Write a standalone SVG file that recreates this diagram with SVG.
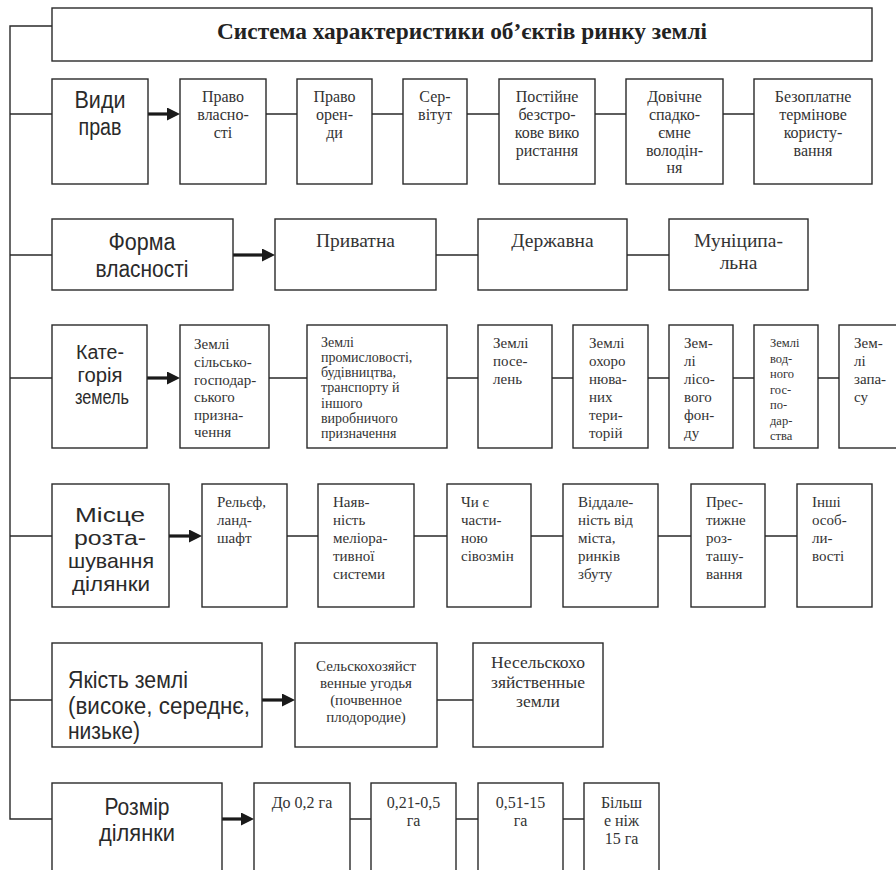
<svg xmlns="http://www.w3.org/2000/svg" width="896" height="870" viewBox="0 0 896 870">
<defs>
<style>
.b{fill:#fff;stroke:#2a2a2a;stroke-width:1.4}
.c{fill:none;stroke:#2a2a2a;stroke-width:1.4}
.a{stroke:#1a1a1a;stroke-width:3.2;fill:none}
.L{font-family:"Liberation Sans",Arial,sans-serif;font-size:23px;fill:#2a2a2a}
.s{font-family:"Liberation Serif","Times New Roman",serif;font-size:16px;fill:#333}
.m{text-anchor:middle}
.t{font-family:"Liberation Serif","Times New Roman",serif;font-size:23px;font-weight:bold;fill:#222;text-anchor:middle}
</style>
<marker id="ah" markerUnits="userSpaceOnUse" markerWidth="14" markerHeight="14" refX="0" refY="6.5" orient="auto">
<path d="M0,0 L13,6.5 L0,13 z" fill="#1a1a1a"/>
</marker>
</defs>
<rect width="896" height="870" fill="#fff"/>

<g id="connectors">
<path class="c" d="M52,26 H10 V819 H52 M10,114 H52 M10,255 H52 M10,378 H52 M10,536 H52 M10,700 H52"/>
<path class="c" d="M266,114 H297 M372,114 H403 M467,114 H499 M595,114 H626 M723,114 H754"/>
<path class="c" d="M436,255 H478 M627,255 H669"/>
<path class="c" d="M269,378 H307 M447,378 H478 M552,378 H573 M648,378 H669 M733,378 H754 M818,378 H839"/>
<path class="c" d="M287,536 H318 M414,536 H447 M531,536 H563 M658,536 H691 M765,536 H797"/>
<path class="c" d="M437,700 H473"/>
<path class="c" d="M350,819 H371 M456,819 H478 M563,819 H584"/>
<line class="a" x1="148" y1="114" x2="167" y2="114" marker-end="url(#ah)"/>
<line class="a" x1="233" y1="255" x2="262" y2="255" marker-end="url(#ah)"/>
<line class="a" x1="147" y1="378" x2="167" y2="378" marker-end="url(#ah)"/>
<line class="a" x1="169" y1="536" x2="189" y2="536" marker-end="url(#ah)"/>
<line class="a" x1="262" y1="700" x2="282" y2="700" marker-end="url(#ah)"/>
<line class="a" x1="222" y1="819" x2="241" y2="819" marker-end="url(#ah)"/>
</g>

<g id="title"><rect class="b" x="52" y="8" width="820" height="53"/>
<text class="t" x="462" y="39" textLength="490" lengthAdjust="spacingAndGlyphs">Система характеристики об’єктів ринку землі</text></g>

<!-- Row 1 -->
<g id="vydy-prav"><rect class="b" x="52" y="79" width="96" height="105"/>
<text class="L m" x="100" y="108" textLength="51" lengthAdjust="spacingAndGlyphs">Види</text>
<text class="L m" x="100" y="135" textLength="43" lengthAdjust="spacingAndGlyphs">прав</text></g>
<g id="pravo-vlasnosti"><rect class="b" x="180" y="79" width="86" height="105"/>
<text class="s m"><tspan x="223" y="102">Право</tspan><tspan x="223" y="120">власно-</tspan><tspan x="223" y="138">сті</tspan></text></g>
<g id="pravo-orendy"><rect class="b" x="297" y="79" width="75" height="105"/>
<text class="s m"><tspan x="334.5" y="102">Право</tspan><tspan x="334.5" y="120">орен-</tspan><tspan x="334.5" y="138">ди</tspan></text></g>
<g id="servitut"><rect class="b" x="403" y="79" width="64" height="105"/>
<text class="s m"><tspan x="435" y="102">Сер-</tspan><tspan x="435" y="120">вітут</tspan></text></g>
<g id="postiine"><rect class="b" x="499" y="79" width="96" height="105"/>
<text class="s m"><tspan x="547" y="102">Постійне</tspan><tspan x="547" y="120">безстро-</tspan><tspan x="547" y="138">кове вико</tspan><tspan x="547" y="156">ристання</tspan></text></g>
<g id="dovichne"><rect class="b" x="626" y="79" width="97" height="105"/>
<text class="s m"><tspan x="674.5" y="102">Довічне</tspan><tspan x="674.5" y="120">спадко-</tspan><tspan x="674.5" y="138">ємне</tspan><tspan x="674.5" y="156">володін-</tspan><tspan x="674.5" y="173">ня</tspan></text></g>
<g id="bezoplatne"><rect class="b" x="754" y="79" width="118" height="105"/>
<text class="s m"><tspan x="813" y="102">Безоплатне</tspan><tspan x="813" y="120">термінове</tspan><tspan x="813" y="138">користу-</tspan><tspan x="813" y="156">вання</tspan></text></g>

<!-- Row 2 -->
<g id="forma-vlasnosti"><rect class="b" x="52" y="219" width="181" height="71"/>
<text class="L m" x="142" y="250" textLength="67" lengthAdjust="spacingAndGlyphs">Форма</text>
<text class="L m" x="142" y="277" textLength="93" lengthAdjust="spacingAndGlyphs">власності</text></g>
<g id="pryvatna"><rect class="b" x="275" y="219" width="161" height="71"/>
<text class="s m" style="font-size:19.5px" x="355.5" y="247">Приватна</text></g>
<g id="derzhavna"><rect class="b" x="478" y="219" width="149" height="71"/>
<text class="s m" style="font-size:19.5px" x="552.5" y="247">Державна</text></g>
<g id="munitsypalna"><rect class="b" x="669" y="219" width="139" height="71"/>
<text class="s m" style="font-size:19.5px"><tspan x="738.5" y="247">Муніципа-</tspan><tspan x="738.5" y="269">льна</tspan></text></g>

<!-- Row 3 -->
<g id="katehoriia"><rect class="b" x="52" y="325" width="95" height="123"/>
<text class="L m" style="font-size:20px" x="100" y="359" textLength="48" lengthAdjust="spacingAndGlyphs">Кате-</text>
<text class="L m" style="font-size:20px" x="100" y="381.5" textLength="45" lengthAdjust="spacingAndGlyphs">горія</text>
<text class="L m" style="font-size:20px" x="102" y="404" textLength="54" lengthAdjust="spacingAndGlyphs">земель</text></g>
<g id="silskohosp"><rect class="b" x="180" y="325" width="89" height="123"/>
<text class="s" style="font-size:15px"><tspan x="194" y="349">Землі</tspan><tspan x="194" y="367">сільсько-</tspan><tspan x="194" y="384.5">господар-</tspan><tspan x="194" y="402">ського</tspan><tspan x="194" y="420">призна-</tspan><tspan x="194" y="437">чення</tspan></text></g>
<g id="promyslovosti"><rect class="b" x="307" y="325" width="140" height="123"/>
<text class="s" style="font-size:14px"><tspan x="321" y="347">Землі</tspan><tspan x="321" y="362">промисловості,</tspan><tspan x="321" y="377">будівництва,</tspan><tspan x="321" y="392">транспорту й</tspan><tspan x="321" y="408">іншого</tspan><tspan x="321" y="423">виробничого</tspan><tspan x="321" y="438">призначення</tspan></text></g>
<g id="poselen"><rect class="b" x="478" y="325" width="74" height="123"/>
<text class="s" style="font-size:15px"><tspan x="493" y="348">Землі</tspan><tspan x="493" y="366">посе-</tspan><tspan x="493" y="384">лень</tspan></text></g>
<g id="okhoroniuvanykh"><rect class="b" x="573" y="325" width="75" height="123"/>
<text class="s" style="font-size:15px"><tspan x="589" y="348">Землі</tspan><tspan x="589" y="366">охоро</tspan><tspan x="589" y="384">нюва-</tspan><tspan x="589" y="402">них</tspan><tspan x="589" y="420">тери-</tspan><tspan x="589" y="438">торій</tspan></text></g>
<g id="lisovoho"><rect class="b" x="669" y="325" width="64" height="123"/>
<text class="s" style="font-size:15px"><tspan x="684" y="348">Зем-</tspan><tspan x="684" y="366">лі</tspan><tspan x="684" y="384">лісо-</tspan><tspan x="684" y="402">вого</tspan><tspan x="684" y="420">фон-</tspan><tspan x="684" y="438">ду</tspan></text></g>
<g id="vodnoho"><rect class="b" x="754" y="325" width="64" height="123"/>
<text class="s" style="font-size:12.5px"><tspan x="770" y="347">Землі</tspan><tspan x="770" y="362.5">вод-</tspan><tspan x="770" y="378">ного</tspan><tspan x="770" y="393.5">гос-</tspan><tspan x="770" y="409">по-</tspan><tspan x="770" y="424.5">дар-</tspan><tspan x="770" y="440">ства</tspan></text></g>
<g id="zapasu"><rect class="b" x="839" y="325" width="80" height="123"/>
<text class="s" style="font-size:15px"><tspan x="854" y="348">Зем-</tspan><tspan x="854" y="366">лі</tspan><tspan x="854" y="384">запа-</tspan><tspan x="854" y="402">су</tspan></text></g>

<!-- Row 4 -->
<g id="mistse"><rect class="b" x="52" y="484" width="117" height="123"/>
<text class="L m" style="font-size:21px" x="110" y="522" textLength="70" lengthAdjust="spacingAndGlyphs">Місце</text>
<text class="L m" style="font-size:21px" x="110" y="545" textLength="72" lengthAdjust="spacingAndGlyphs">розта-</text>
<text class="L m" style="font-size:21px" x="111" y="568" textLength="86" lengthAdjust="spacingAndGlyphs">шування</text>
<text class="L m" style="font-size:21px" x="111" y="591" textLength="78" lengthAdjust="spacingAndGlyphs">ділянки</text></g>
<g id="relief"><rect class="b" x="202" y="484" width="85" height="123"/>
<text class="s" style="font-size:15px"><tspan x="217" y="507">Рельєф,</tspan><tspan x="217" y="525">ланд-</tspan><tspan x="217" y="543">шафт</tspan></text></g>
<g id="nayavnist"><rect class="b" x="318" y="484" width="96" height="123"/>
<text class="s" style="font-size:15px"><tspan x="333" y="507">Наяв-</tspan><tspan x="333" y="525">ність</tspan><tspan x="333" y="543">меліора-</tspan><tspan x="333" y="561">тивної</tspan><tspan x="333" y="579">системи</tspan></text></g>
<g id="sivozmin"><rect class="b" x="447" y="484" width="84" height="123"/>
<text class="s" style="font-size:15px"><tspan x="461" y="507">Чи є</tspan><tspan x="461" y="525">части-</tspan><tspan x="461" y="543">ною</tspan><tspan x="461" y="561">сівозмін</tspan></text></g>
<g id="viddalenist"><rect class="b" x="563" y="484" width="95" height="123"/>
<text class="s" style="font-size:15px"><tspan x="578" y="507">Віддале-</tspan><tspan x="578" y="525">ність від</tspan><tspan x="578" y="543">міста,</tspan><tspan x="578" y="561">ринків</tspan><tspan x="578" y="579">збуту</tspan></text></g>
<g id="prestyzhne"><rect class="b" x="691" y="484" width="74" height="123"/>
<text class="s" style="font-size:15px"><tspan x="706" y="507">Прес-</tspan><tspan x="706" y="525">тижне</tspan><tspan x="706" y="543">роз-</tspan><tspan x="706" y="561">ташу-</tspan><tspan x="706" y="579">вання</tspan></text></g>
<g id="inshi"><rect class="b" x="797" y="484" width="75" height="123"/>
<text class="s" style="font-size:15px"><tspan x="812" y="507">Інші</tspan><tspan x="812" y="525">особ-</tspan><tspan x="812" y="543">ли-</tspan><tspan x="812" y="561">вості</tspan></text></g>

<!-- Row 5 -->
<g id="yakist"><rect class="b" x="52" y="643" width="210" height="104"/>
<text class="L" x="68" y="688" textLength="120" lengthAdjust="spacingAndGlyphs">Якість землі</text>
<text class="L" x="68" y="713.5" textLength="182" lengthAdjust="spacingAndGlyphs">(високе, середнє,</text>
<text class="L" x="68" y="739" textLength="72" lengthAdjust="spacingAndGlyphs">низьке)</text></g>
<g id="silskohospodarski"><rect class="b" x="295" y="643" width="142" height="104"/>
<text class="s m" style="font-size:15px"><tspan x="366" y="671">Сельскохозяйст</tspan><tspan x="366" y="688">венные угодья</tspan><tspan x="366" y="705">(почвенное</tspan><tspan x="366" y="722">плодородие)</tspan></text></g>
<g id="nesilskohospodarski"><rect class="b" x="473" y="643" width="130" height="104"/>
<text class="s m" style="font-size:17.5px"><tspan x="538" y="668">Несельскохо</tspan><tspan x="538" y="688">зяйственные</tspan><tspan x="538" y="707">земли</tspan></text></g>

<!-- Row 6 -->
<g id="rozmir"><rect class="b" x="52" y="783" width="170" height="110"/>
<text class="L m" x="137" y="815" textLength="65" lengthAdjust="spacingAndGlyphs">Розмір</text>
<text class="L m" x="137" y="841" textLength="76" lengthAdjust="spacingAndGlyphs">ділянки</text></g>
<g id="do02"><rect class="b" x="254" y="783" width="96" height="110"/>
<text class="s m" x="302" y="808">До 0,2 га</text></g>
<g id="r021"><rect class="b" x="371" y="783" width="85" height="110"/>
<text class="s m"><tspan x="413.5" y="808">0,21-0,5</tspan><tspan x="413.5" y="826">га</tspan></text></g>
<g id="r051"><rect class="b" x="478" y="783" width="85" height="110"/>
<text class="s m"><tspan x="520.5" y="808">0,51-15</tspan><tspan x="520.5" y="826">га</tspan></text></g>
<g id="bilsh15"><rect class="b" x="584" y="783" width="75" height="110"/>
<text class="s m"><tspan x="621.5" y="808">Більш</tspan><tspan x="621.5" y="826">е ніж</tspan><tspan x="621.5" y="844">15 га</tspan></text></g>
</svg>
